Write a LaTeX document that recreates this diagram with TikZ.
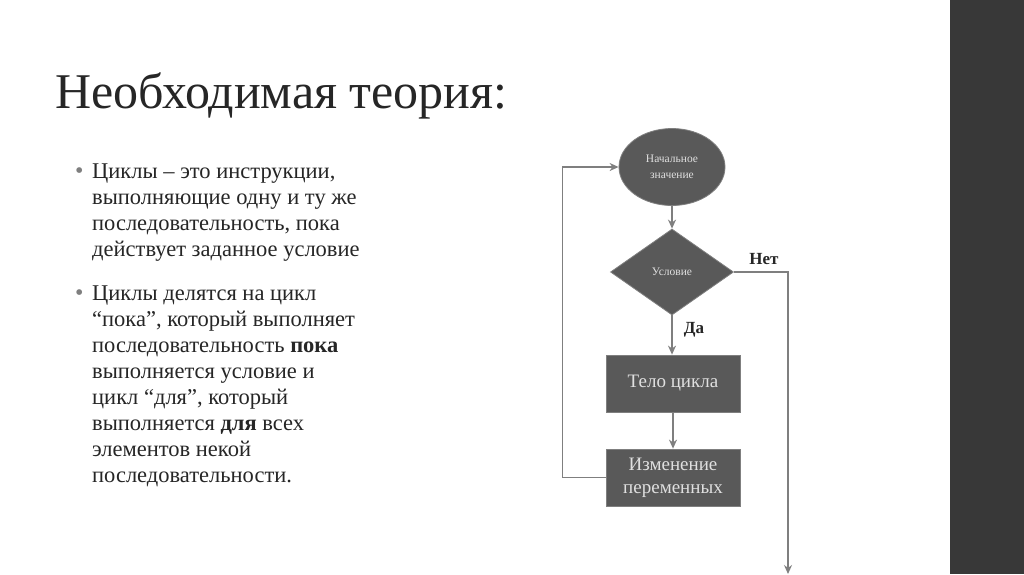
\documentclass[tikz,border=0pt]{standalone}
\usepackage{fontspec}
\setmainfont{Liberation Serif}
\usetikzlibrary{shapes.geometric,arrows.meta}
\definecolor{boxfill}{HTML}{595959}
\definecolor{linec}{HTML}{7F7F7F}
\definecolor{bar}{HTML}{383838}
\definecolor{txt}{HTML}{262626}
\begin{document}
\begin{tikzpicture}[x=1pt,y=-1pt,
  shp/.style={fill=boxfill,draw=linec,line width=0.8pt,text=white!88!black,align=center,inner sep=0pt},
  conn/.style={draw=linec,line width=1.3pt,-{Stealth[length=9pt,width=8pt]}},
  bul/.style={anchor=base west,inner sep=0pt,text=linec,font=\fontsize{24}{26}\selectfont},
  body/.style={anchor=base west,align=flush left,font=\fontsize{22.5}{26}\selectfont,text=txt,inner sep=0pt,text width=330pt}]
\useasboundingbox (0,0) rectangle (1024,574);
\fill[white] (0,0) rectangle (1024,574);
\fill[bar] (950,0) rectangle (1024,574);
\node[anchor=base west,inner sep=0pt,font=\fontsize{50}{55}\selectfont,text=txt] (title) at (55,108) {Необходимая теория:};
\node[bul] (b1) at (75,178) {•};
\node[body] (t1) at (92,178) {Циклы – это инструкции,\\ выполняющие одну и ту же\\ последовательность, пока\\ действует заданное условие};
\node[bul] (b2) at (75,300) {•};
\node[body] (t2) at (92,300) {Циклы делятся на цикл\\ “пока”, который выполняет\\ последовательность \textbf{пока}\\ выполняется условие и\\ цикл “для”, который\\ выполняется \textbf{для} всех\\ элементов некой\\ последовательности.};
\node[shp,ellipse,minimum width=106pt,minimum height=77pt,font=\fontsize{11.5}{16}\selectfont] (start) at (672,167) {Начальное\\значение};
\node[shp,diamond,minimum width=123pt,minimum height=86pt,font=\fontsize{11.5}{14}\selectfont] (cond) at (672,272) {Условие};
\node[shp,rectangle,minimum width=134pt,minimum height=57pt,font=\fontsize{19}{23}\selectfont] (body1) at (673,383.5) {Тело цикла};
\node[shp,rectangle,minimum width=134pt,minimum height=57pt,font=\fontsize{19}{23}\selectfont] (change) at (673,477.5) {Изменение\\переменных};
\coordinate (exit) at (788,574);
\draw[conn] (start) -- (cond);
\draw[conn] (cond.south) -- (cond.south |- body1.north);
\draw[conn] (body1) -- (change);
\draw[conn] (change.west) -- ++(-43,0) |- (start.west);
\draw[conn] (cond.east) -| (exit);
\node[font=\bfseries\fontsize{17}{20}\selectfont,text=txt,anchor=base] (no) at (764,264) {Нет};
\node[font=\bfseries\fontsize{17}{20}\selectfont,text=txt,anchor=base] (yes) at (694,333) {Да};
\end{tikzpicture}
\end{document}
